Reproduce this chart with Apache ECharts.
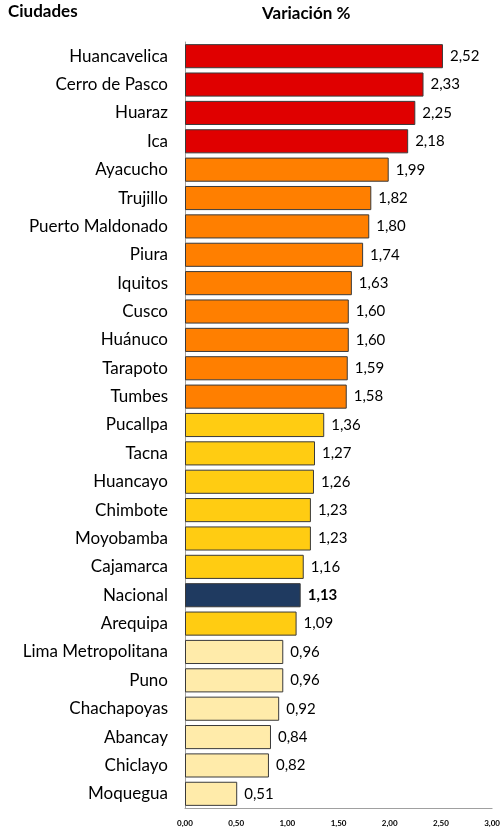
<!DOCTYPE html>
<html><head><meta charset="utf-8">
<script src="https://cdn.jsdelivr.net/npm/echarts@6/dist/echarts.min.js"></script>
<style>html,body{margin:0;padding:0;background:#fff}#c{width:503px;height:832px}</style>
</head><body><div id="c"></div>
<script>
const categories = ["Huancavelica","Cerro de Pasco","Huaraz","Ica","Ayacucho","Trujillo","Puerto Maldonado","Piura","Iquitos","Cusco","Huánuco","Tarapoto","Tumbes","Pucallpa","Tacna","Huancayo","Chimbote","Moyobamba","Cajamarca","Nacional","Arequipa","Lima Metropolitana","Puno","Chachapoyas","Abancay","Chiclayo","Moquegua"];
const values = [2.52,2.33,2.25,2.18,1.99,1.82,1.80,1.74,1.63,1.60,1.60,1.59,1.58,1.36,1.27,1.26,1.23,1.23,1.16,1.13,1.09,0.96,0.96,0.92,0.84,0.82,0.51];
const tiers = ["high","high","high","high","mid","mid","mid","mid","mid","mid","mid","mid","mid","low","low","low","low","low","low","national","low","lowest","lowest","lowest","lowest","lowest","lowest"];
const xTicks = [0,0.5,1,1.5,2,2.5,3];

const tierColors = {high:"#E00000", mid:"#FF7F00", low:"#FFCC12", national:"#1F3A60", lowest:"#FFEBAA"};
const fmt = v => v.toFixed(2).replace('.', ',');
const FONT = "Lato, 'Open Sans', sans-serif";

const chart = echarts.init(document.getElementById('c'), null, {renderer:'canvas'});
chart.setOption({
  animation:false,
  textStyle:{fontFamily:FONT},
  graphic:[
    {type:'text', left:8, top:3, style:{text:'Ciudades', font:"bold 17px "+FONT, fill:'#000'}},
    {type:'text', left:262, top:5, style:{text:'Variación %', font:"bold 17px "+FONT, fill:'#000'}}
  ],
  grid:{left:185, right:7, top:42, bottom:24, containLabel:false},
  xAxis:{type:'value', min:xTicks[0], max:xTicks[xTicks.length-1], interval:0.5,
    axisLine:{show:true, lineStyle:{color:'#a0a0a0'}},
    axisTick:{show:false}, splitLine:{show:false},
    axisLabel:{formatter:v=>fmt(v), fontSize:8, fontWeight:'bold', color:'#000', margin:11}},
  yAxis:{type:'category', data:categories, inverse:true,
    axisLine:{show:true, lineStyle:{color:'#a0a0a0'}},
    axisTick:{show:false},
    axisLabel:{fontSize:17, color:'#000', margin:17}},
  series:[{
    type:'bar', barCategoryGap:'15%',
    data: values.map((v,i)=>({value:v,
      itemStyle:{color:tierColors[tiers[i]], borderColor:'#3a3a3a', borderWidth:1},
      label:{fontWeight: tiers[i]==='national' ? 'bold':'normal'}})),
    label:{show:true, position:'right', distance:7, fontSize:15, color:'#000', formatter:p=>fmt(p.value)}
  }]
});
</script></body></html>
